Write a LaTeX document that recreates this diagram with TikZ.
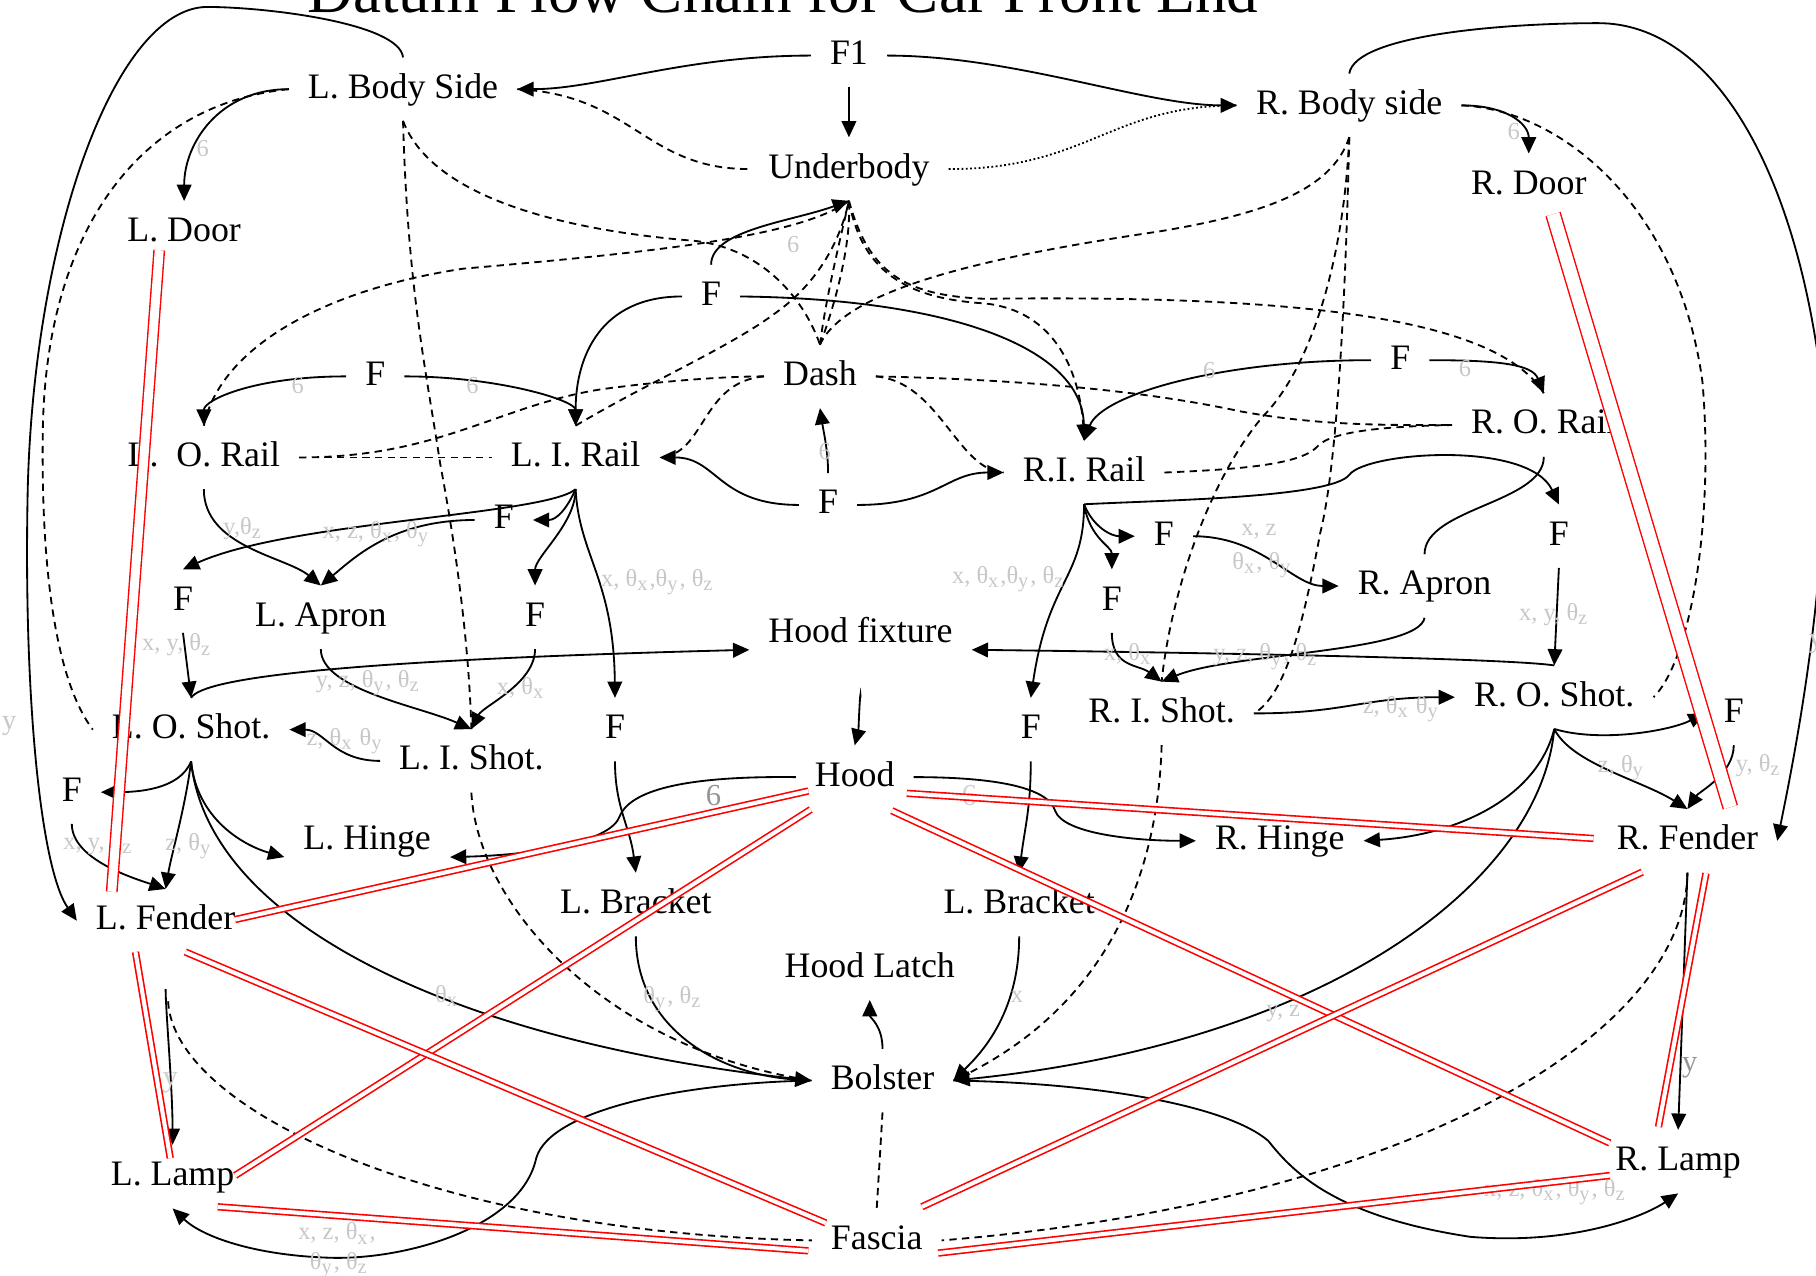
\documentclass[tikz,border=0pt]{standalone}
\usepackage{fontspec}
\setmainfont{Liberation Serif}
\usepackage{tikz}
\usetikzlibrary{arrows.meta, calc}

\newcommand{\thx}{θ\textsubscript{x}}
\newcommand{\thy}{θ\textsubscript{y}}
\newcommand{\thz}{θ\textsubscript{z}}

\begin{document}
\begin{tikzpicture}[x=0.01cm, y=-0.01cm,
  comp/.style={font=\fontsize{8.8}{10}\selectfont, inner xsep=4.5pt, inner ysep=3.6pt,
    text height=6.2pt, text depth=1.8pt},
  lbl/.style={font=\fontsize{6}{7}\selectfont, text=black!22, inner sep=0pt},
  biglbl/.style={font=\fontsize{7.5}{8}\selectfont, text=black!42, inner sep=0pt},
  arr/.style={line width=0.45pt, -{Triangle[length=4pt,width=3.6pt]}},
  sol/.style={line width=0.45pt},
  dsh/.style={line width=0.45pt, dash pattern=on 1.8pt off 1.3pt},
  dotl/.style={line width=0.45pt, dash pattern=on 0.45pt off 0.6pt},
  mate/.style={draw=red, double=white, line width=0.4pt, double distance=1pt},
  matew/.style={draw=red, double=white, line width=0.35pt, double distance=2.2pt}]
  \useasboundingbox (0,0) rectangle (1568,1101);
  % titulo
  \node[font=\fontsize{15.5}{17}\selectfont, anchor=base, inner sep=0pt] (title) at (676,11)
    {Datum Flow Chain for Car Front End};
  % pecas
  \node[comp] (f1) at (733,48) {F1};
  \node[comp] (lbody) at (348,77) {L. Body Side};
  \node[comp] (rbody) at (1165,91) {R. Body side};
  \node[comp] (under) at (733,146) {Underbody};
  \node[comp] (ldoor) at (159,201) {L. Door};
  \node[comp] (rdoor) at (1320,160) {R. Door};
  \node[comp] (ftop) at (614,256) {F};
  \node[comp] (flor) at (324,325) {F};
  \node[comp] (dash) at (708,325) {Dash};
  \node[comp] (fror) at (1209,311) {F};
  \node[comp] (ror) at (1333,367) {R. O. Rail};
  \node[comp] (lor) at (176,395) {L.\ \ O. Rail};
  \node[comp] (lir) at (497,395) {L. I. Rail};
  \node[comp] (rir) at (936,408) {R.I. Rail};
  \node[comp] (frail) at (715,436) {F};
  \node[comp] (fli) at (435,449) {F};
  \node[comp] (fria) at (1005,463) {F};
  \node[comp] (fro) at (1346,463) {F};
  \node[comp] (flo) at (158,519) {F};
  \node[comp] (lapron) at (277,533) {L. Apron};
  \node[comp] (flis) at (462,533) {F};
  \node[comp] (hfix) at (743,547) {Hood fixture};
  \node[comp] (fris) at (960,519) {F};
  \node[comp] (rapron) at (1230,506) {R. Apron};
  \node[comp] (roshot) at (1342,602) {R. O. Shot.};
  \node[comp] (rishot) at (1003,616) {R. I. Shot.};
  \node[comp] (loshot) at (165,630) {L. O. Shot.};
  \node[comp] (lishot) at (407,657) {L. I. Shot.};
  \node[comp] (flbr) at (531,630) {F};
  \node[comp] (frbr) at (890,630) {F};
  \node[comp] (frf) at (1497,616) {F};
  \node[comp] (flf) at (62,684) {F};
  \node[comp] (hood) at (738,671) {Hood};
  \node[comp] (lhinge) at (317,726) {L. Hinge};
  \node[comp] (rhinge) at (1105,726) {R. Hinge};
  \node[comp] (rfender) at (1457,726) {R. Fender};
  \node[comp] (lfender) at (143,795) {L. Fender};
  \node[comp] (lbrl) at (549,781) {L. Bracket};
  \node[comp] (lbrr) at (880,781) {L. Bracket};
  \node[comp] (latch) at (751,836) {Hood Latch};
  \node[comp] (bolster) at (762,933) {Bolster};
  \node[comp] (llamp) at (149,1016) {L. Lamp};
  \node[comp] (rlamp) at (1449,1003) {R. Lamp};
  \node[comp] (fascia) at (757,1071) {Fascia};
  % topo
  \draw[arr] (f1.west) .. controls +(-110,0) and +(70,0) .. (lbody.east);
  \draw[arr] (f1.east) .. controls +(110,0) and +(-80,0) .. (rbody.west);
  \draw[arr] (f1.south) -- (under.north);
  \draw[dsh] (lbody.east) .. controls +(100,5) and +(-90,0) .. (under.west);
  \draw[dotl] (under.east) .. controls +(120,0) and +(-110,0) .. (rbody.west);
  \draw[arr] (lbody.north) .. controls (345,20) and (230,6) .. (178,6)
    .. controls (100,8) and (30,200) .. (24,420)
    .. controls (20,600) and (35,750) .. (lfender.west);
  \draw[arr] (rbody.north) .. controls (1170,30) and (1300,20) .. (1380,20)
    .. controls (1480,20) and (1555,150) .. (1575,350)
    .. controls (1580,500) and (1550,650) .. (rfender.east);
  \draw[arr] (lbody.west) .. controls +(-60,0) and +(0,-50) .. (ldoor.north);
  \draw[dsh] (lbody.west) .. controls (120,90) and (40,200) .. (37,370)
    .. controls (35,500) and (50,590) .. (loshot.west);
  \draw[dsh] (lbody.south) .. controls (352,250) and (368,320) .. (380,400)
    .. controls (395,480) and (405,560) .. (lishot.north);
  \draw[dsh] (lishot.south) .. controls (412,780) and (520,905) .. (bolster.west);
  \draw[dsh] (lbody.south) .. controls (375,175) and (500,200) .. (600,208)
    .. controls (660,215) and (695,260) .. (dash.north);
  \draw[dsh] (rbody.south) .. controls (1150,165) and (1090,185) .. (1000,200)
    .. controls (850,222) and (730,250) .. (dash.north);
  \draw[arr] (rbody.east) .. controls +(40,0) and +(0,-25) .. (rdoor.north);
  \draw[dsh] (rbody.east) .. controls (1350,95) and (1450,180) .. (1470,330)
    .. controls (1480,450) and (1460,570) .. (roshot.east);
  \draw[dsh] (rbody.south) .. controls (1160,230) and (1130,320) .. (1090,360)
    .. controls (1040,420) and (1010,520) .. (rishot.north);
  \draw[dsh] (rbody.south) .. controls (1162,250) and (1155,400) .. (1140,460)
    .. controls (1125,540) and (1110,600) .. (rishot.east);
  \draw[dsh] (rishot.south) .. controls (1000,750) and (960,870) .. (bolster.east);
  % underbody
  \draw[arr] (ftop.north) .. controls +(0,-30) and +(-50,18) .. (under.south);
  \draw[dsh] (lor.north) .. controls (190,300) and (280,250) .. (400,232)
    .. controls (560,218) and (690,205) .. (under.south);
  \draw[dsh] (lir.north) .. controls (560,330) and (630,300) .. (670,270)
    .. controls (705,245) and (725,210) .. (under.south);
  \draw[dsh] (dash.north) .. controls +(5,-40) and +(-8,35) .. (under.south);
  \draw[dsh] (dash.north) .. controls +(15,-40) and +(2,35) .. (under.south);
  \draw[dsh] (under.south) .. controls (750,235) and (780,255) .. (850,258)
    .. controls (1100,255) and (1290,270) .. (ror.north);
  \draw[dsh] (under.south) .. controls (745,240) and (790,258) .. (850,262)
    .. controls (910,268) and (935,320) .. (rir.north);
  \draw[arr] (ftop.east) .. controls (820,258) and (935,300) .. (rir.north);
  % trilhos
  \draw[arr] (flor.west) .. controls +(-80,0) and +(0,-22) .. (lor.north);
  \draw[arr] (flor.east) .. controls +(80,0) and +(0,-22) .. (lir.north);
  \draw[arr] (ftop.west) .. controls +(-70,0) and +(0,-60) .. (lir.north);
  \draw[dsh] (lor.east) -- (lir.west);
  \draw[dsh] (lor.east) .. controls (380,395) and (430,350) .. (520,336)
    .. controls (580,328) and (630,325) .. (dash.west);
  \draw[arr] (frail.north) .. controls +(0,-20) and +(3,20) .. (dash.south);
  \draw[arr] (frail.west) .. controls +(-70,0) and +(50,0) .. (lir.east);
  \draw[arr] (frail.east) .. controls +(70,0) and +(-50,0) .. (rir.west);
  \draw[dsh] (dash.west) .. controls +(-55,5) and +(40,-2) .. (lir.east);
  \draw[dsh] (dash.east) .. controls +(55,5) and +(-40,-2) .. (rir.west);
  \draw[dsh] (dash.east) .. controls (900,328) and (1000,340) .. (1070,355)
    .. controls (1140,368) and (1200,367) .. (ror.west);
  \draw[dsh] (rir.east) .. controls (1080,405) and (1125,400) .. (1138,385)
    .. controls (1150,372) and (1200,368) .. (ror.west);
  \draw[arr] (fror.east) .. controls +(60,0) and +(-10,-25) .. (ror.north);
  \draw[arr] (fror.west) .. controls +(-130,0) and +(15,-40) .. (rir.north);
  % lado direito
  \draw[arr] (rir.south) .. controls +(8,20) and +(-20,0) .. (fria.west);
  \draw[arr] (rir.south) .. controls +(5,30) and +(0,-20) .. (fris.north);
  \draw[arr] (rir.south) .. controls (936,500) and (905,500) .. (frbr.north);
  \draw[arr] (rir.south) .. controls (1000,432) and (1150,430) .. (1165,410)
    .. controls (1180,390) and (1320,380) .. (fro.north);
  \draw[sol] (ror.south) .. controls +(0,40) and +(0,-40) .. (rapron.north);
  \draw[arr] (fro.south) -- (roshot.north);
  \draw[arr] (fria.east) .. controls +(60,0) and +(-40,0) .. (rapron.west);
  \draw[arr] (rapron.south) .. controls +(-5,30) and +(60,-25) .. (rishot.north);
  \draw[arr] (fris.south) .. controls +(0,30) and +(-20,-15) .. (rishot.north);
  \draw[arr] (roshot.north) .. controls (1300,568) and (1000,563) .. ([yshift=-4pt]hfix.east);
  \draw[arr] (rishot.east) .. controls +(80,0) and +(-80,0) .. (roshot.west);
  \draw[arr] (roshot.south) .. controls +(40,12) and +(-30,15) .. (frf.west);
  \draw[arr] (roshot.south) .. controls +(15,30) and +(-40,-25) .. (rfender.north);
  \draw[arr] (frf.south) .. controls +(0,25) and +(10,-15) .. (rfender.north);
  \draw[arr] (roshot.south) .. controls +(-15,60) and +(80,-5) .. (rhinge.east);
  \draw[arr] (roshot.south) .. controls (1330,760) and (1150,900) .. (bolster.east);
  % lado esquerdo
  \draw[arr] (lir.south) .. controls +(-8,18) and +(20,0) .. (fli.east);
  \draw[arr] (lir.south) .. controls +(0,30) and +(0,-25) .. (flis.north);
  \draw[arr] (lir.south) .. controls (500,480) and (530,500) .. (flbr.north);
  \draw[arr] (lir.south) .. controls (470,445) and (250,450) .. (flo.north);
  \draw[arr] (lor.south) .. controls +(0,50) and +(-30,-25) .. (lapron.north);
  \draw[arr] (fli.west) .. controls +(-70,0) and +(30,-25) .. (lapron.north);
  \draw[arr] (lapron.south) .. controls +(0,35) and +(-45,-20) .. (lishot.north);
  \draw[arr] (flis.south) .. controls +(0,30) and +(10,-20) .. (lishot.north);
  \draw[arr] (flo.south) -- (loshot.north);
  \draw[arr] (loshot.north) .. controls (175,585) and (300,570) .. ([yshift=-4pt]hfix.west);
  \draw[arr] (lishot.west) .. controls +(-40,0) and +(30,0) .. (loshot.east);
  \draw[arr] (loshot.south) .. controls +(-10,25) and +(30,0) .. (flf.east);
  \draw[arr] (loshot.south) .. controls +(-5,40) and +(5,-30) .. (lfender.north);
  \draw[arr] (flf.south) .. controls +(0,30) and +(-30,-10) .. (lfender.north);
  \draw[arr] (loshot.south) .. controls +(5,50) and +(-35,-10) .. ([yshift=-4pt]lhinge.west);
  \draw[arr] (loshot.south) .. controls (180,800) and (400,900) .. (bolster.west);
  % capo e suportes
  \draw[arr, shorten <=8pt] (hfix.south) .. controls +(0,15) and +(3,-12) .. (hood.north);
  \draw[arr] (hood.west) .. controls (600,670) and (545,680) .. (535,705)
    .. controls (528,725) and (470,738) .. ([yshift=-4pt]lhinge.east);
  \draw[arr] (hood.east) .. controls (860,671) and (905,680) .. (911,700)
    .. controls (918,720) and (980,726) .. (rhinge.west);
  \draw[arr] (flbr.south) .. controls +(0,40) and +(-5,-40) .. (lbrl.north);
  \draw[arr] (frbr.south) .. controls +(0,40) and +(5,-40) .. (lbrr.north);
  \draw[arr] (lbrl.south) .. controls +(0,80) and +(-80,-5) .. (bolster.west);
  \draw[arr] (lbrr.south) .. controls +(0,70) and +(20,-20) .. (bolster.east);
  \draw[arr] (bolster.north) .. controls +(0,-20) and +(0,15) .. (latch.south);
  \draw[dsh] (bolster.south) -- (fascia.north);
  % lanternas
  \draw[arr, shorten <=9pt] (lfender.south) .. controls +(0,50) and +(0,-50) .. (llamp.north);
  \draw[dsh, shorten <=12pt] (lfender.south) .. controls (150,960) and (380,1065) .. (fascia.west);
  \draw[arr] (rfender.south) -- (rlamp.north);
  \draw[dsh] (rfender.south) .. controls (1455,900) and (1200,1040) .. (fascia.east);
  \draw[arr] (bolster.west) .. controls (590,935) and (475,958) .. (463,1000)
    .. controls (450,1060) and (350,1088) .. (285,1086)
    .. controls (220,1084) and (175,1068) .. (llamp.south);
  \draw[arr] (bolster.east) .. controls (950,935) and (1060,955) .. (1095,985)
    .. controls (1115,1010) and (1150,1050) .. (1270,1068)
    .. controls (1360,1075) and (1420,1050) .. (rlamp.south);
  % rotulos
  \node[lbl] (s1) at (175,128) {6};
  \node[lbl] (s2) at (257,333) {6};
  \node[lbl] (s3) at (408,333) {6};
  \node[lbl] (s4) at (685,211) {6};
  \node[lbl] (s5) at (712,390) {6};
  \node[lbl] (s6) at (1307,114) {6};
  \node[lbl] (s7) at (1044,320) {6};
  \node[lbl] (s8) at (1265,318) {6};
  \node[lbl, font=\fontsize{7}{8}\selectfont] (s9) at (8,627) {y};
  \node[lbl, font=\fontsize{7}{8}\selectfont] (s10) at (1568,556) {y};
  \node[lbl] (s11) at (210,456) {y,\thz};
  \node[lbl] (s12) at (325,461) {x, z, \thx, \thy};
  \node[lbl] (s13) at (568,503) {x, \thx,\thy, \thz};
  \node[lbl] (s14) at (871,500) {x, \thx,\thy, \thz};
  \node[lbl] (s15) at (153,557) {x, y, \thz};
  \node[lbl] (s16) at (318,590) {y, z, \thy, \thz};
  \node[lbl] (s17) at (450,594) {x, \thx};
  \node[lbl] (s18) at (298,640) {z, \thx\ \thy};
  \node[lbl] (s19) at (85,728) {x, y, \thz};
  \node[lbl] (s20) at (163,731) {z, \thy};
  \node[lbl] (s21) at (386,860) {\thx};
  \node[biglbl, text=black!18] (s22) at (147,935) {y};
  \node[lbl] (s23) at (291,1065) {x, z, \thx,};
  \node[lbl] (s24) at (293,1092) {\thy, \thz};
  \node[lbl] (s25) at (581,863) {\thy, \thz};
  \node[lbl] (s26) at (878,861) {x};
  \node[lbl] (s27) at (1108,875) {y, z};
  \node[biglbl] (s28) at (1459,922) {y};
  \node[lbl] (s29) at (1343,1029) {x, z, \thx, \thy, \thz};
  \node[lbl] (s30) at (1087,459) {x, z};
  \node[lbl] (s31) at (1090,488) {\thx, \thy};
  \node[lbl] (s32) at (1342,531) {x, y, \thz};
  \node[lbl] (s33) at (1093,567) {y, z, \thy, \thz};
  \node[lbl] (s34) at (974,565) {x, \thx};
  \node[lbl] (s35) at (1210,612) {z, \thx\ \thy};
  \node[lbl] (s36) at (1400,663) {z, \thy};
  \node[lbl] (s37) at (1508,661) {x, y, \thz};
  \node[biglbl] (s38) at (616,687) {6};
  \node[biglbl, text=black!18] (s39) at (837,687) {6};
  % ligacoes vermelhas
  \draw[matew] ($(ldoor)+(-21.5,15)$) -- ($(lfender)+(-46.5,-25)$);
  \draw[matew, double distance=3.2pt] ($(rdoor)+(21,25)$) -- ($(rfender)+(37,-29)$);
  \draw[mate] ($(hood)+(-40,12)$) -- ($(lfender)+(60,-1)$);
  \draw[mate] ($(hood)+(-38,28)$) -- ($(llamp)+(54,-1)$);
  \draw[mate] ($(hood)+(45,14)$) -- ($(rfender)+(-81,-2)$);
  \draw[mate] ($(hood)+(32,29)$) -- ($(rlamp)+(-59,-16)$);
  \draw[mate] ($(lfender)+(17,27)$) -- ($(fascia)+(-44,-15)$);
  \draw[mate] ($(lfender)+(-26,27)$) -- ($(llamp)+(-2,-16)$);
  \draw[mate] ($(llamp)+(39,26)$) -- ($(fascia)+(-59,9)$);
  \draw[mate] ($(rfender)+(-39,27)$) -- ($(fascia)+(39,-29)$);
  \draw[mate] ($(rfender)+(16,28)$) -- ($(rlamp)+(-17,-30)$);
  \draw[mate] ($(rlamp)+(-59,12)$) -- ($(fascia)+(53,11)$);
\end{tikzpicture}
\end{document}
